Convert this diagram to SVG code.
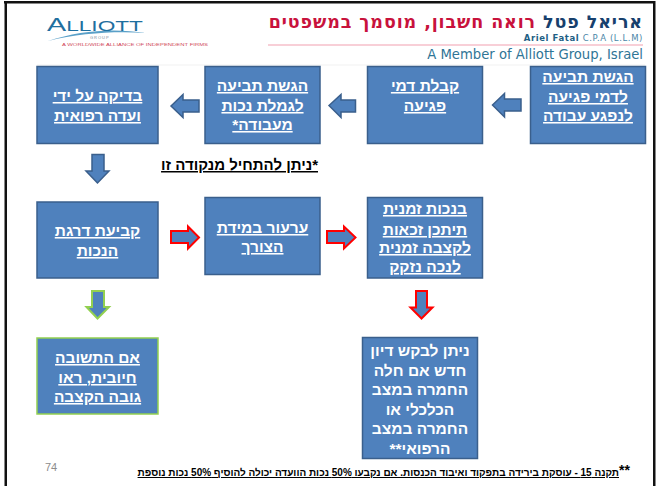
<svg xmlns="http://www.w3.org/2000/svg" width="656" height="486" viewBox="0 0 656 486">
<style>
text{font-family:"Liberation Sans",Arial,sans-serif}
.box{fill:#4f81bd;stroke:#3a5f8c;stroke-width:1.5}
.gbox{fill:#4f81bd;stroke:#92d050;stroke-width:1.5}
.t{fill:#fff;font-weight:700;font-size:15.5px;text-anchor:middle;direction:rtl;text-decoration:underline}
.t2{fill:#fff;font-weight:700;font-size:15.5px;text-anchor:middle;direction:rtl}
.ab{fill:#4f81bd;stroke:#3a5f8c;stroke-width:1.5}
.ar{fill:#4f81bd;stroke:#f00;stroke-width:2}
.ag{fill:#4f81bd;stroke:#92d050;stroke-width:2}
</style>
<rect width="656" height="486" fill="#fff"/>
<g id="frame" fill="#111">
<rect x="4" y="1" width="651" height="2.5"/>
<rect x="4.500" y="1" width="2.500" height="485"/>
<rect x="653" y="1" width="2.500" height="485"/>
</g>
<g id="header">
<rect x="37" y="64.500" width="608" height="1" fill="#f2f2f2"/>
<path d="M48 41C80 30 115 28 146 33C115 31 80 33 48 41Z" fill="#5aa0c8"/>
<text x="47" y="31" font-size="19" fill="#1f6f9f" textLength="96" lengthAdjust="spacingAndGlyphs">A<tspan font-size="15">LLIOTT</tspan></text>
<text x="90" y="39" font-size="4" fill="#7a8a99" letter-spacing="1">GROUP</text>
<text x="62" y="45.500" font-size="4" fill="#d04a5a" textLength="146" lengthAdjust="spacingAndGlyphs">A WORLDWIDE ALLIANCE OF INDEPENDENT FIRMS</text>
<text x="643" y="28" font-size="17.500" letter-spacing="0.9" font-weight="700" text-anchor="start" direction="rtl" style="font-family:'DejaVu Sans',sans-serif"><tspan fill="#17406d">אריאל פטל</tspan><tspan fill="#c8123c"> רואה חשבון, מוסמך במשפטים</tspan></text>
<text x="643" y="40.500" font-size="8.500" letter-spacing="0.6" text-anchor="end" fill="#1f5f85" style="font-family:'DejaVu Sans',sans-serif"><tspan font-weight="700">Ariel Fatal</tspan><tspan fill="#4a86a8"> C.P.A (L.L.M)</tspan></text>
<rect x="268" y="44.500" width="375" height="1" fill="#f2a0b0"/>
<text x="643" y="59" font-size="13.200" text-anchor="end" fill="#2f7596" style="font-family:'DejaVu Sans',sans-serif">A Member of Alliott Group, Israel</text>
</g>
<g id="connectors">
<polygon class="ab" points="492.500,105 504.500,93.500 504.500,99 521,99 521,111 504.500,111 504.500,117 "/>
<polygon class="ab" points="329,105.500 341,94.500 341,100 355.500,100 355.500,112 341,112 341,117.500"/>
<polygon class="ab" points="171,106 183,94.500 183,100 199,100 199,112 183,112 183,117.500"/>
<polygon class="ab" points="97.500,183 86,171 92,171 92,154.500 104,154.500 104,171 109,171"/>
<polygon class="ar" points="199,237.500 188,226.500 188,231 171,231 171,243 188,243 188,248.500"/>
<polygon class="ar" points="355.500,237.500 344,226.500 344,231 327,231 327,243 344,243 344,248.500"/>
<polygon class="ag" points="97.500,318.500 86.500,307 92,307 92,291 104,291 104,307 109,307"/>
<polygon class="ar" points="421.500,318.500 410.500,307.500 416,307.500 416,291 427,291 427,307.500 432.500,307.500"/>
</g>
<g id="n1"><rect class="box" x="530.500" y="66.500" width="115" height="77"/>
<text class="t" x="588" y="82">הגשת תביעה</text><text class="t" x="588" y="102">לדמי פגיעה</text><text class="t" x="588" y="121">לנפגע עבודה</text></g>
<g id="n2"><rect class="box" x="367.500" y="66.500" width="115" height="77"/>
<text class="t" x="425" y="91">קבלת דמי</text><text class="t" x="425" y="111">פגיעה</text></g>
<g id="n3"><rect class="box" x="205" y="66.500" width="115" height="77"/>
<text class="t" x="262.500" y="91">הגשת תביעה</text><text class="t" x="262.500" y="111">לגמלת נכות</text><text class="t" x="262.500" y="130">מעבודה*</text></g>
<g id="n4"><rect class="box" x="37" y="66.500" width="121" height="77"/>
<text class="t" x="97.500" y="101">בדיקה על ידי</text><text class="t" x="97.500" y="121">ועדה רפואית</text></g>
<g id="note1"><text x="318" y="170" font-size="15" font-weight="700" text-anchor="start" direction="rtl" text-decoration="underline" fill="#000">*ניתן להתחיל מנקודה זו</text></g>
<g id="n5"><rect class="box" x="37" y="202" width="121" height="76"/>
<text class="t" x="97.500" y="236">קביעת דרגת</text><text class="t" x="97.500" y="256">הנכות</text></g>
<g id="n6"><rect class="box" x="205" y="197.500" width="115" height="77"/>
<text class="t" x="262.500" y="233">ערעור במידת</text><text class="t" x="262.500" y="252">הצורך</text></g>
<g id="n7"><rect class="box" x="367.500" y="197.500" width="115" height="80.500"/>
<text class="t" x="425" y="214">בנכות זמנית</text><text class="t" x="425" y="235">תיתכן זכאות</text><text class="t" x="425" y="253">לקצבה זמנית</text><text class="t" x="425" y="272">לנכה נזקק</text></g>
<g id="n8"><rect class="gbox" x="37" y="338" width="121" height="76"/>
<text class="t" x="97.500" y="363">אם התשובה</text><text class="t" x="97.500" y="383">חיובית, ראו</text><text class="t" x="97.500" y="402">גובה הקצבה</text></g>
<g id="n9"><rect class="box" x="362.500" y="337.500" width="115" height="121"/>
<text class="t2" x="420" y="356">ניתן לבקש דיון</text><text class="t2" x="420" y="376">חדש אם חלה</text><text class="t2" x="420" y="395">החמרה במצב</text><text class="t2" x="420" y="415">הכלכלי או</text><text class="t2" x="420" y="434">החמרה במצב</text><text class="t2" x="420" y="454">הרפואי**</text></g>
<g id="footer">
<text x="45" y="471" font-size="11" fill="#8c8c8c">74</text>
<text x="619" y="475" font-size="14" font-weight="700" fill="#000">**</text>
<text x="619" y="476" font-size="10" font-weight="700" text-anchor="start" direction="rtl" text-decoration="underline" fill="#000">תקנה 15 - עוסקת בירידה בתפקוד ואיבוד הכנסות. אם נקבעו 50% נכות הוועדה יכולה להוסיף 50% נכות נוספת</text>
</g>
</svg>
